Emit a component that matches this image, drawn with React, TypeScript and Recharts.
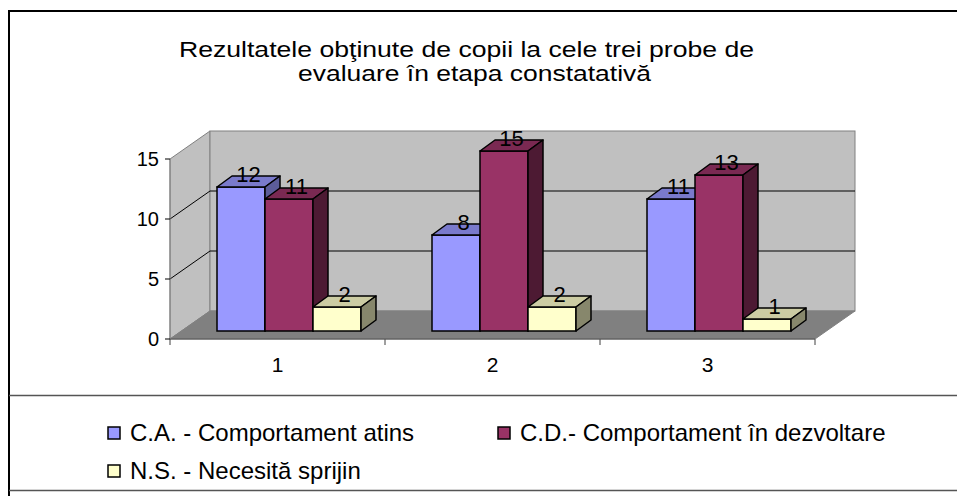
import React from 'react';
import { BarChart, Bar, XAxis, YAxis, LabelList } from 'recharts';

const CATEGORIES = ['1', '2', '3'];
const CA_VALUES = [12, 8, 11];
const CD_VALUES = [11, 15, 13];
const NS_VALUES = [2, 2, 1];
const Y_TICKS = [0, 5, 10, 15];
const SERIES_NAMES = ['C.A. - Comportament atins', 'C.D.- Comportament în dezvoltare', 'N.S. - Necesită sprijin'];
const TITLE_LINES = ['Rezultatele obţinute de copii la cele trei probe de', 'evaluare în etapa constatativă'];

const data = CATEGORIES.map((cat, i) => ({ cat, ca: CA_VALUES[i], cd: CD_VALUES[i], ns: NS_VALUES[i] }));

const W = 957;
const H = 496;
const FONT = '"Liberation Sans", Arial, sans-serif';

// front plane of the plot
const PLOT_LEFT = 170;
const PLOT_RIGHT = 815;
const PLOT_TOP = 159;
const PLOT_BOTTOM = 339;
const Y_MAX = 15;
// depth of the floor / walls
const DEPTH_X = 40;
const DEPTH_Y = 28;
// bars sit a little behind the front plane
const BAR_OX = 11;
const BAR_OY = -8;
const BAR_DX = 15;
const BAR_DY = 11;

const SERIES = [
  { key: 'ca', name: SERIES_NAMES[0], front: '#9999FF', top: '#7A7ACC', side: '#5C5C99' },
  { key: 'cd', name: SERIES_NAMES[1], front: '#993366', top: '#7A2952', side: '#4D1A33' },
  { key: 'ns', name: SERIES_NAMES[2], front: '#FFFFCC', top: '#CCCCA3', side: '#87876C' },
];

const yOf = (v: number) => PLOT_BOTTOM - (v / Y_MAX) * (PLOT_BOTTOM - PLOT_TOP);

const makeShape = (s: typeof SERIES[number]) => (props: any) => {
  const x = Number(props.x) + BAR_OX;
  const y = Number(props.y) + BAR_OY;
  const w = Number(props.width);
  const h = Number(props.height);
  if (!w || h <= 0) return <g />;
  const sw = 1.5;
  return (
    <g>
      <rect x={x} y={y} width={w} height={h} fill={s.front} stroke="#000" strokeWidth={sw} />
      <polygon
        points={`${x},${y} ${x + BAR_DX},${y - BAR_DY} ${x + w + BAR_DX},${y - BAR_DY} ${x + w},${y}`}
        fill={s.top}
        stroke="#000"
        strokeWidth={sw}
        strokeLinejoin="round"
      />
      <polygon
        points={`${x + w},${y} ${x + w + BAR_DX},${y - BAR_DY} ${x + w + BAR_DX},${y + h - BAR_DY} ${x + w},${y + h}`}
        fill={s.side}
        stroke="#000"
        strokeWidth={sw}
        strokeLinejoin="round"
      />
    </g>
  );
};

const renderLabel = (props: any) => {
  const { x, y, width, value } = props;
  return (
    <text
      x={Number(x) + Number(width) / 2 + BAR_OX + BAR_DX / 2}
      y={Number(y) + BAR_OY - 13}
      textAnchor="middle"
      dominantBaseline="central"
      fontSize={22}
      fontFamily={FONT}
      fill="#000"
    >
      {value}
    </text>
  );
};

const Backdrop = () => {
  const band = (PLOT_RIGHT - PLOT_LEFT) / CATEGORIES.length;
  const bx = PLOT_LEFT + DEPTH_X;
  const byTop = PLOT_TOP - DEPTH_Y;
  const byBottom = PLOT_BOTTOM - DEPTH_Y;
  return (
    <svg width={W} height={H} style={{ position: 'absolute', left: 0, top: 0 }}>
      <rect x={0} y={0} width={W} height={H} fill="#fff" />
      {/* frame */}
      <line x1={9} y1={10} x2={9} y2={H} stroke="#000" strokeWidth={2} />
      <line x1={8} y1={11} x2={W} y2={11} stroke="#000" strokeWidth={2} />
      <line x1={9} y1={395.5} x2={W} y2={395.5} stroke="#555" strokeWidth={1.5} />
      <line x1={9} y1={490.5} x2={W} y2={490.5} stroke="#555" strokeWidth={1.5} />

      {/* title */}
      <text x={179} y={57} fontSize={22} fontFamily={FONT} textLength={575} lengthAdjust="spacingAndGlyphs">
        {TITLE_LINES[0]}
      </text>
      <text x={298} y={80.5} fontSize={22} fontFamily={FONT} textLength={353} lengthAdjust="spacingAndGlyphs">
        {TITLE_LINES[1]}
      </text>

      {/* walls */}
      <polygon
        points={`${PLOT_LEFT},${PLOT_TOP} ${bx},${byTop} ${bx},${byBottom} ${PLOT_LEFT},${PLOT_BOTTOM}`}
        fill="#C0C0C0"
        stroke="#808080"
      />
      <rect x={bx} y={byTop} width={PLOT_RIGHT - PLOT_LEFT} height={PLOT_BOTTOM - PLOT_TOP} fill="#C0C0C0" stroke="#808080" />
      <polygon
        points={`${PLOT_LEFT},${PLOT_BOTTOM} ${bx},${byBottom} ${PLOT_RIGHT + DEPTH_X},${byBottom} ${PLOT_RIGHT},${PLOT_BOTTOM}`}
        fill="#808080"
        stroke="#808080"
      />
      {Y_TICKS.filter((t) => t > 0 && t < Y_MAX).map((t) => (
        <g key={t}>
          <line x1={bx} y1={yOf(t) - DEPTH_Y} x2={PLOT_RIGHT + DEPTH_X} y2={yOf(t) - DEPTH_Y} stroke="#000" />
          <line x1={PLOT_LEFT} y1={yOf(t)} x2={bx} y2={yOf(t) - DEPTH_Y} stroke="#000" />
        </g>
      ))}
      {/* category boundary ticks */}
      {Array.from({ length: CATEGORIES.length + 1 }, (_, i) => (
        <line
          key={i}
          x1={PLOT_LEFT + i * band}
          y1={PLOT_BOTTOM}
          x2={PLOT_LEFT + i * band}
          y2={PLOT_BOTTOM + 6}
          stroke="#404040"
        />
      ))}

      {/* legend */}
      {SERIES.map((s, i) => {
        const lx = i === 1 ? 498 : 108;
        const ly = i === 2 ? 479 : 441;
        return (
          <g key={s.key}>
            <rect x={lx} y={ly - 14} width={12} height={12} fill={s.front} stroke="#000" strokeWidth={1.5} />
            <text x={lx + 22} y={ly} fontSize={24} fontFamily={FONT} fill="#000">
              {s.name}
            </text>
          </g>
        );
      })}
    </svg>
  );
};

export default function App() {
  return (
    <div style={{ position: 'absolute', left: 0, top: 0, width: W, height: H, background: '#fff' }}>
      <Backdrop />
      <div style={{ position: 'absolute', left: 0, top: 0 }}>
        <BarChart
          width={W}
          height={H}
          data={data}
          margin={{ top: PLOT_TOP, right: W - PLOT_RIGHT, bottom: H - PLOT_BOTTOM - 30, left: PLOT_LEFT - 60 }}
          barCategoryGap={36}
          barGap={0}
        >
          <XAxis
            dataKey="cat"
            height={30}
            axisLine={{ stroke: '#555' }}
            tickLine={false}
            tickSize={5}
            tickMargin={13}
            tick={{ fill: '#000', fontSize: 21, fontFamily: FONT }}
          />
          <YAxis
            width={60}
            domain={[0, Y_MAX]}
            ticks={Y_TICKS}
            axisLine={{ stroke: '#808080' }}
            tickLine={{ stroke: '#000' }}
            tickSize={5}
            tickMargin={6}
            tick={{ fill: '#000', fontSize: 20, fontFamily: FONT }}
          />
          {SERIES.map((s) => (
            <Bar key={s.key} dataKey={s.key} name={s.name} fill={s.front} shape={makeShape(s)} isAnimationActive={false}>
              <LabelList dataKey={s.key} content={renderLabel} />
            </Bar>
          ))}
        </BarChart>
      </div>
    </div>
  );
}
